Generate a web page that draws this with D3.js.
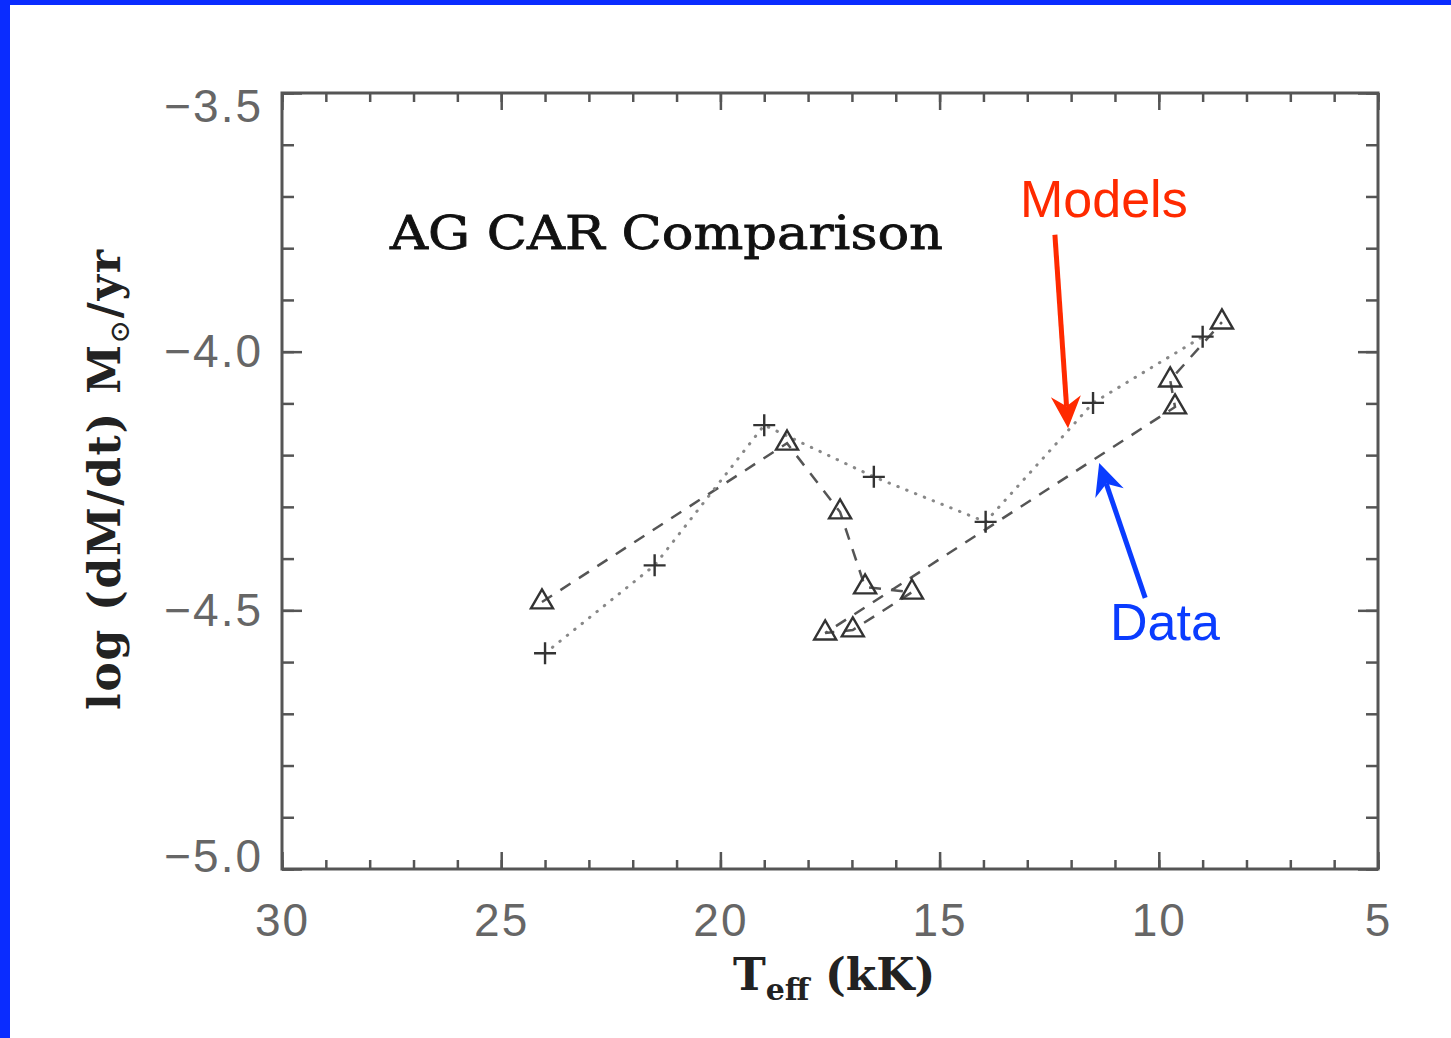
<!DOCTYPE html>
<html>
<head>
<meta charset="utf-8">
<script src="https://cdn.jsdelivr.net/npm/d3@7"></script>
<style>
  body { margin: 0; background: #fff; }
  svg { display: block; }
</style>
</head>
<body>
<svg id="chart"></svg>
<script>
// model points (crosses, dotted) and observed points (triangles, dashed)
var modelTeff = [24.0, 21.5, 19.0, 16.5, 13.95, 11.5, 9.0];
var modelMdot = [-4.583, -4.413, -4.142, -4.242, -4.329, -4.099, -3.971];

// data points, in the order the dashed line joins them
var dataTeff = [24.07, 18.48, 17.27, 16.70, 15.63, 16.98, 17.61, 9.63, 9.74, 8.56];
var dataMdot = [-4.484, -4.177, -4.310, -4.455, -4.465, -4.538, -4.544, -4.107, -4.055, -3.943];

var xMajor = [30, 25, 20, 15, 10, 5];
var yMajor = [-3.5, -4.0, -4.5, -5.0];

var svgWidth = 1451, svgHeight = 1038;

var svg = d3.select('#chart')
    .attr("width", svgWidth)
    .attr("height", svgHeight);

// blue slide border (left and top)
svg.append("rect").attr("x", 0).attr("y", 0).attr("width", 10).attr("height", svgHeight).attr("fill", "#0a2cff");
svg.append("rect").attr("x", 0).attr("y", 0).attr("width", svgWidth).attr("height", 5).attr("fill", "#0a2cff");

var x = d3.scaleLinear().domain([30, 5]).range([282, 1378]);
var y = d3.scaleLinear().domain([-3.5, -5.0]).range([93, 869]);

var axisColor = "#555";

function styleAxis(g) {
    g.select(".domain").remove();
    g.selectAll(".tick line").attr("stroke", axisColor).attr("stroke-width", 2.5);
    g.selectAll("text")
        .style("font-family", "'Liberation Sans', Arial, sans-serif")
        .style("font-size", "46px")
        .style("letter-spacing", "2px")
        .attr("fill", "#666");
}

// minor ticks
var xMinor = d3.range(5, 31, 1);
var yMinor = d3.range(-50, -34, 1).map(function(d) { return d / 10; });

svg.append("g").attr("transform", "translate(0," + y(-5.0) + ")")
    .call(d3.axisBottom(x).tickValues(xMinor).tickSize(-9).tickFormat(""))
    .call(styleAxis);
svg.append("g").attr("transform", "translate(0," + y(-3.5) + ")")
    .call(d3.axisTop(x).tickValues(xMinor).tickSize(-9).tickFormat(""))
    .call(styleAxis);
svg.append("g").attr("transform", "translate(" + x(30) + ",0)")
    .call(d3.axisLeft(y).tickValues(yMinor).tickSize(-12).tickFormat(""))
    .call(styleAxis);
svg.append("g").attr("transform", "translate(" + x(5) + ",0)")
    .call(d3.axisRight(y).tickValues(yMinor).tickSize(-12).tickFormat(""))
    .call(styleAxis);

// major ticks with labels
svg.append("g").attr("transform", "translate(0," + y(-5.0) + ")")
    .call(d3.axisBottom(x).tickValues(xMajor).tickSize(-17).tickPadding(34).tickFormat(d3.format("d")))
    .call(styleAxis);
svg.append("g").attr("transform", "translate(0," + y(-3.5) + ")")
    .call(d3.axisTop(x).tickValues(xMajor).tickSize(-17).tickFormat(""))
    .call(styleAxis);
var yAxisG = svg.append("g").attr("transform", "translate(" + x(30) + ",0)")
    .call(d3.axisLeft(y).tickValues(yMajor).tickSize(-20).tickPadding(19).tickFormat(d3.format(".1f")))
    .call(styleAxis);
svg.append("g").attr("transform", "translate(" + x(5) + ",0)")
    .call(d3.axisRight(y).tickValues(yMajor).tickSize(-20).tickFormat(""))
    .call(styleAxis);

// end labels sit a little inside the axis range
yAxisG.selectAll(".tick text").attr("dy", function(d) {
    if (d == -3.5) return "0.62em";
    if (d == -5.0) return "0.06em";
    return "0.32em";
});

// frame
svg.append("rect")
    .attr("x", x(30)).attr("y", y(-3.5))
    .attr("width", x(5) - x(30)).attr("height", y(-5.0) - y(-3.5))
    .attr("fill", "none").attr("stroke", axisColor).attr("stroke-width", 3);

// lines
var line = d3.line()
    .x(function(d) { return x(d[0]); })
    .y(function(d) { return y(d[1]); });

var modelPts = modelTeff.map(function(t, i) { return [t, modelMdot[i]]; });
var dataPts = dataTeff.map(function(t, i) { return [t, dataMdot[i]]; });

svg.append("path").datum(dataPts)
    .attr("d", line)
    .attr("fill", "none").attr("stroke", "#555").attr("stroke-width", 2.5)
    .attr("stroke-dasharray", "12,10");

svg.append("path").datum(modelPts)
    .attr("d", line)
    .attr("fill", "none").attr("stroke", "#888").attr("stroke-width", 3)
    .attr("stroke-linecap", "round")
    .attr("stroke-dasharray", "0.5,9");

// crosses
svg.selectAll(".cross")
    .data(modelPts)
    .enter()
    .append("path")
    .attr("class", "cross")
    .attr("d", function(d) {
        var cx = x(d[0]), cy = y(d[1]), s = 11;
        return "M" + (cx - s) + "," + cy + "H" + (cx + s) + "M" + cx + "," + (cy - s) + "V" + (cy + s);
    })
    .attr("stroke", "#333").attr("stroke-width", 2.4).attr("fill", "none");

// triangles
svg.selectAll(".tri")
    .data(dataPts)
    .enter()
    .append("path")
    .attr("class", "tri")
    .attr("d", d3.symbol().type(d3.symbolTriangle).size(210))
    .attr("transform", function(d) {
        return "translate(" + x(d[0]) + "," + y(d[1]) + ")";
    })
    .attr("fill", "none").attr("stroke", "#333").attr("stroke-width", 2.4);

// title
svg.append("text")
    .attr("x", 390).attr("y", 249)
    .attr("textLength", 553).attr("lengthAdjust", "spacingAndGlyphs")
    .style("font", "46px 'DejaVu Serif', serif")
    .attr("fill", "#111").attr("stroke", "#111").attr("stroke-width", 0.8)
    .text("AG CAR Comparison");

// x title
var xt = svg.append("text")
    .attr("x", 733).attr("y", 990)
    .style("font", "bold 44px 'DejaVu Serif', serif")
    .attr("fill", "#222");
xt.append("tspan").text("T");
xt.append("tspan").attr("dy", 10).style("font-size", "30px").text("eff");
xt.append("tspan").attr("dy", -10).attr("x", 825).text("(kK)");

// y title
var yt = svg.append("text")
    .attr("transform", "translate(120,710) rotate(-90)")
    .attr("textLength", 460).attr("lengthAdjust", "spacing")
    .style("font", "bold 44px 'DejaVu Serif', serif")
    .attr("fill", "#222");
yt.append("tspan").text("log (dM/dt) M");
yt.append("tspan").attr("dy", 9).style("font-size", "28px").style("font-weight", "normal").text("\u2299");
yt.append("tspan").attr("dy", -9).text("/yr");

// annotation arrows
var annotations = [
    { label: "Models", color: "#ff2a00", from: [12.37, -3.774], to: [12.07, -4.148], tx: 1020, ty: 217 },
    { label: "Data", color: "#0a3cff", from: [10.31, -4.476], to: [11.36, -4.215], tx: 1110, ty: 640 }
];

annotations.forEach(function(a) {
    var x0 = x(a.from[0]), y0 = y(a.from[1]);
    var x1 = x(a.to[0]), y1 = y(a.to[1]);
    var dx = x1 - x0, dy = y1 - y0, len = Math.sqrt(dx * dx + dy * dy);
    var ux = dx / len, uy = dy / len, nx = -uy, ny = ux;
    var hl = 32, hw = 15, notch = 22;
    svg.append("line")
        .attr("x1", x0).attr("y1", y0)
        .attr("x2", x1 - ux * notch).attr("y2", y1 - uy * notch)
        .attr("stroke", a.color).attr("stroke-width", 5);
    svg.append("path")
        .attr("d", "M" + x1 + "," + y1 +
            "L" + (x1 - ux * hl + nx * hw) + "," + (y1 - uy * hl + ny * hw) +
            "L" + (x1 - ux * notch) + "," + (y1 - uy * notch) +
            "L" + (x1 - ux * hl - nx * hw) + "," + (y1 - uy * hl - ny * hw) + "Z")
        .attr("fill", a.color);
    svg.append("text")
        .attr("x", a.tx).attr("y", a.ty)
        .style("font", "52px 'Liberation Sans', Arial, sans-serif")
        .attr("fill", a.color)
        .text(a.label);
});
</script>
</body>
</html>
